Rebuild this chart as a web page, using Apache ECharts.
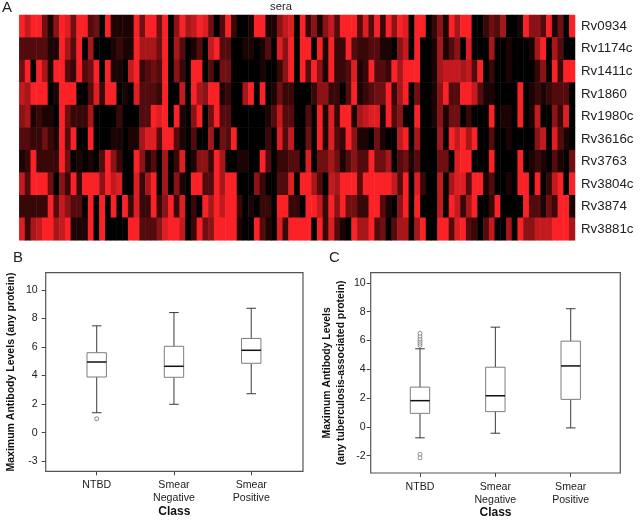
<!DOCTYPE html>
<html><head><meta charset="utf-8">
<style>html,body{margin:0;padding:0;background:#fff}#c{width:640px;height:520px}</style>
<script src="https://cdn.jsdelivr.net/npm/echarts@6/dist/echarts.min.js"></script>
</head><body><div id="c"></div>
<script>
// Heatmap: one list per protein, 97 sera, relative level 0 (black) to 9 (red)
const proteins = ['Rv0934','Rv1174c','Rv1411c','Rv1860','Rv1980c','Rv3616c','Rv3763','Rv3804c','Rv3874','Rv3881c'];
const rv0934  = [9,7,9,9,4,1,5,9,8,4,9,9,3,4,0,9,1,1,1,1,9,4,9,9,4,9,0,5,9,6,7,9,8, 4,0,3,9,2,0,0,1,9,9,1,1,5,7,8,0,9,2,5,1,5,7,3,9,9,9,3,8,3,9,2,9, 5,9,8,0,9,9,0,2,5,1,9,6,9,9,0,0,2,4,3,6,0,0,1,9,5,5,3,9,1,4,0,9];
const rv1174c = [3,3,3,3,3,1,1,9,6,3,9,0,6,0,0,0,1,2,1,1,9,6,6,6,4,9,0,6,3,0,1,3,0, 7,9,3,3,0,0,1,1,0,1,3,0,8,5,9,0,9,9,0,9,1,9,2,2,9,3,2,2,3,3,1,1, 0,5,7,0,9,0,0,1,6,1,3,5,0,8,0,0,0,6,0,0,1,0,0,0,1,6,9,0,6,3,0,0];
const rv1411c = [4,9,0,9,6,1,9,9,3,2,9,3,4,9,0,9,1,1,0,7,9,2,3,4,3,9,0,5,2,0,9,9,0, 3,0,4,4,0,0,0,0,0,1,0,0,2,5,9,0,9,3,9,5,1,9,2,2,3,8,1,2,9,3,3,2, 9,6,9,9,9,0,0,1,6,7,7,7,6,7,3,9,0,2,0,0,1,0,0,0,0,2,5,0,9,2,9,9];
const rv1860  = [7,6,9,9,9,0,1,9,9,9,0,0,3,8,2,9,9,0,1,0,8,3,3,3,2,9,0,0,7,0,9,6,5, 9,9,1,2,0,0,6,9,0,9,0,1,4,2,2,0,0,0,2,5,5,2,2,0,3,9,1,2,3,4,4,9, 2,6,9,0,4,0,0,1,5,9,3,3,9,9,7,3,1,1,0,0,0,0,9,0,1,2,1,2,3,3,3,0];
const rv1980c = [5,6,1,2,1,1,0,9,4,2,2,2,6,0,0,0,0,2,0,0,0,3,3,9,8,9,0,9,1,0,5,9,0, 4,9,3,3,0,0,0,0,0,0,1,3,7,3,3,0,0,3,0,9,1,8,2,9,9,1,6,7,8,8,1,9, 3,5,0,0,9,0,0,1,5,1,4,4,0,2,0,0,0,9,0,1,1,0,9,0,1,7,0,0,5,2,8,0];
const rv3616c = [3,3,2,2,4,2,1,9,3,9,0,0,9,0,0,0,1,1,0,1,1,6,8,8,3,9,9,3,1,0,3,0,0, 6,0,4,3,9,0,0,0,0,0,2,0,8,3,7,0,0,4,0,9,1,8,3,2,9,5,1,1,0,4,1,0, 0,7,9,0,6,0,0,0,6,0,9,7,9,6,9,0,0,3,0,0,1,0,0,0,0,5,7,0,8,3,1,0];
const rv3763  = [1,2,9,2,2,2,2,9,4,0,1,0,1,0,3,9,5,2,0,0,9,5,1,3,0,6,0,2,8,0,1,5,5, 2,9,6,0,0,1,1,0,0,9,3,0,2,2,3,3,0,8,0,4,4,6,4,1,3,5,3,3,9,4,4,6, 0,3,4,1,3,0,0,0,4,4,0,8,9,9,0,0,0,9,0,0,0,0,9,0,1,2,1,0,3,1,0,4];
const rv3804c = [7,3,9,9,9,4,0,5,2,9,2,9,9,9,5,9,7,8,0,0,8,2,6,9,0,6,0,5,1,0,9,9,3, 3,9,6,9,9,0,0,0,5,2,0,0,3,3,8,0,9,9,6,3,0,7,6,9,9,9,3,9,9,9,9,9, 7,3,9,0,8,2,0,0,7,0,6,8,8,3,9,9,1,3,0,0,1,0,9,9,0,9,0,2,7,9,0,9];
const rv3874  = [2,2,2,2,2,9,3,7,5,3,3,0,9,0,9,0,9,0,9,2,8,2,2,9,2,5,9,2,8,0,2,0,9, 6,9,7,9,9,2,0,1,0,2,2,0,9,9,2,2,0,9,9,7,2,9,5,9,4,4,2,2,9,9,3,1, 0,5,9,0,9,0,0,0,7,0,9,7,2,6,9,0,0,2,9,0,0,0,0,9,3,3,1,4,2,9,9,1];
const rv3881c = [8,2,6,7,9,9,6,7,9,1,1,1,9,0,9,0,0,0,0,9,9,3,3,3,5,8,9,9,7,0,2,9,4, 5,9,9,9,9,1,0,0,9,3,1,0,8,2,9,9,9,9,0,9,2,8,3,1,0,9,6,6,9,3,4,0, 3,6,6,0,6,9,0,0,9,9,3,8,9,3,2,0,3,7,0,0,6,0,9,5,5,7,7,7,9,9,9,6];
const heatRows = [rv0934,rv1174c,rv1411c,rv1860,rv1980c,rv3616c,rv3763,rv3804c,rv3874,rv3881c];

// Box plots: classes and [low whisker, Q1, median, Q3, high whisker]
const classes = ['NTBD','Smear\nNegative','Smear\nPositive'];
const anyNTBD = [1.40,3.90,4.95,5.60,7.48];
const anyNeg  = [1.99,3.88,4.65,6.05,8.41];
const anyPos  = [2.73,4.86,5.77,6.60,8.71];
const anyOutliers = [[0,0.98]];
const tbNTBD = [-0.76,0.94,1.82,2.76,5.42];
const tbNeg  = [-0.44,1.06,2.16,4.14,6.92];
const tbPos  = [-0.07,1.91,4.23,5.95,8.20];
const tbOutliers = [[0,5.65],[0,5.8],[0,5.95],[0,6.1],[0,6.3],[0,6.5],[0,-1.9],[0,-2.15]];
const anyTicks = [-2,0,2,4,6,8,10];
const anyTickLabels = ['-3','0','2','4','6','8','10'];
const tbTicks = [-2,0,2,4,6,8,10];
const tbTickLabels = ['-2','0','2','4','6','8','10'];

const FONT = '"Liberation Sans", Arial, sans-serif';
const cols = heatRows[0].map((_, i) => String(i + 1));
const heatData = [];
heatRows.forEach((row, r) => row.forEach((v, c) => heatData.push([c, r, v])));

function boxRender(params, api) {
  const x = api.value(0);
  const px = v => api.coord([x, v]);
  const low = px(api.value(1)), q1 = px(api.value(2)), med = px(api.value(3)), q3 = px(api.value(4)), high = px(api.value(5));
  const halfBox = 9.7, halfCap = 4.8;
  const dark = {stroke:'#3a3a3a', lineWidth:1};
  const line = (x1,y1,x2,y2,style) => ({type:'line', shape:{x1,y1,x2,y2}, style});
  return {type:'group', children:[
    line(low[0],q1[1],low[0],low[1],dark),
    line(high[0],q3[1],high[0],high[1],dark),
    line(low[0]-halfCap,low[1],low[0]+halfCap,low[1],dark),
    line(high[0]-halfCap,high[1],high[0]+halfCap,high[1],dark),
    {type:'rect', shape:{x:med[0]-halfBox,y:q3[1],width:2*halfBox,height:q1[1]-q3[1]}, style:{fill:'#fff',stroke:'#7d7d7d',lineWidth:1}},
    line(med[0]-halfBox,med[1],med[0]+halfBox,med[1],{stroke:'#111',lineWidth:1.5})
  ]};
}
const boxRows = list => list.map((b, i) => [i, ...b]);
function xAxisFor(gridIndex, min, max) {
  return {type:'value', gridIndex, min, max, splitLine:{show:false}, axisLine:{show:false, onZero:false},
    axisTick:{show:true, customValues:[0,1,2], length:4, lineStyle:{color:'#444'}},
    axisLabel:{customValues:[0,1,2], formatter:v=>classes[v], color:'#222', fontFamily:FONT, fontSize:10.6, lineHeight:12.5, margin:8},
    name:'Class', nameLocation:'middle', nameGap:34, nameTextStyle:{fontFamily:FONT, fontWeight:'bold', fontSize:12, color:'#111'}};
}
function yAxisFor(gridIndex, min, max, ticks, labels, name, gap, size, margin) {
  return {type:'value', gridIndex, min, max, splitLine:{show:false}, axisLine:{show:false, onZero:false},
    axisTick:{show:true, customValues:ticks, length:4, lineStyle:{color:'#444'}},
    axisLabel:{customValues:ticks, formatter:v=>labels[ticks.indexOf(v)], color:'#222', fontFamily:FONT, fontSize:10.6, margin},
    name, nameLocation:'middle', nameGap:gap, nameTextStyle:{fontFamily:FONT, fontWeight:'bold', fontSize:size, lineHeight:14, color:'#111'}};
}
const panelLetter = (text,x,y) => ({type:'text', x, y, style:{text, fontFamily:FONT, fontSize:15, fill:'#222', textAlign:'left', textVerticalAlign:'middle'}});

const chart = echarts.init(document.getElementById('c'), null, {renderer:'canvas'});
chart.setOption({
  animation:false, backgroundColor:'#fff',
  graphic:[panelLetter('A',2,8), panelLetter('B',13,258), panelLetter('C',329,258),
    {type:'text', x:281, y:7, style:{text:'sera', fontFamily:FONT, fontSize:11.2, fill:'#222', textAlign:'center', textVerticalAlign:'middle'}}],
  grid:[
    {left:19.3, top:15, width:555.7, height:225.3},
    {left:45.7, top:272.7, width:257.3, height:198.6, show:true, borderColor:'#555', borderWidth:1.2, backgroundColor:'transparent'},
    {left:370.7, top:272.7, width:249.6, height:201.6, show:true, borderColor:'#555', borderWidth:1.2, backgroundColor:'transparent'}
  ],
  xAxis:[
    {type:'category', gridIndex:0, data:cols, show:false},
    xAxisFor(1,-0.66,2.67),
    xAxisFor(2,-0.654,2.658)
  ],
  yAxis:[
    {type:'category', gridIndex:0, data:proteins, inverse:true, position:'right', axisLine:{show:false}, axisTick:{show:false}, splitLine:{show:false},
      axisLabel:{color:'#222', fontFamily:FONT, fontSize:13.3, margin:6, padding:[0,0,3,0], interval:0}},
    yAxisFor(1,-2.7,11.2,anyTicks,anyTickLabels,'Maximum Antibody Levels (any protein)',28,10.5,8),
    yAxisFor(2,-3.2,10.7,tbTicks,tbTickLabels,'Maximum Antibody Levels\n(any tuberculosis-associated protein)',23,10.4,5)
  ],
  visualMap:{show:false, min:0, max:9, seriesIndex:0, inRange:{color:['#000000','#fa2226']}},
  series:[
    {type:'heatmap', xAxisIndex:0, yAxisIndex:0, data:heatData, progressive:0, itemStyle:{borderWidth:0}},
    {type:'custom', xAxisIndex:1, yAxisIndex:1, data:boxRows([anyNTBD,anyNeg,anyPos]), renderItem:boxRender, encode:{x:0,y:[1,2,3,4,5]}},
    {type:'scatter', xAxisIndex:1, yAxisIndex:1, data:anyOutliers, symbol:'circle', symbolSize:4, itemStyle:{color:'#fff',borderColor:'#444',borderWidth:0.8}},
    {type:'custom', xAxisIndex:2, yAxisIndex:2, data:boxRows([tbNTBD,tbNeg,tbPos]), renderItem:boxRender, encode:{x:0,y:[1,2,3,4,5]}},
    {type:'scatter', xAxisIndex:2, yAxisIndex:2, data:tbOutliers, symbol:'circle', symbolSize:4, itemStyle:{color:'#fff',borderColor:'#555',borderWidth:0.8}}
  ]
});
</script></body></html>
